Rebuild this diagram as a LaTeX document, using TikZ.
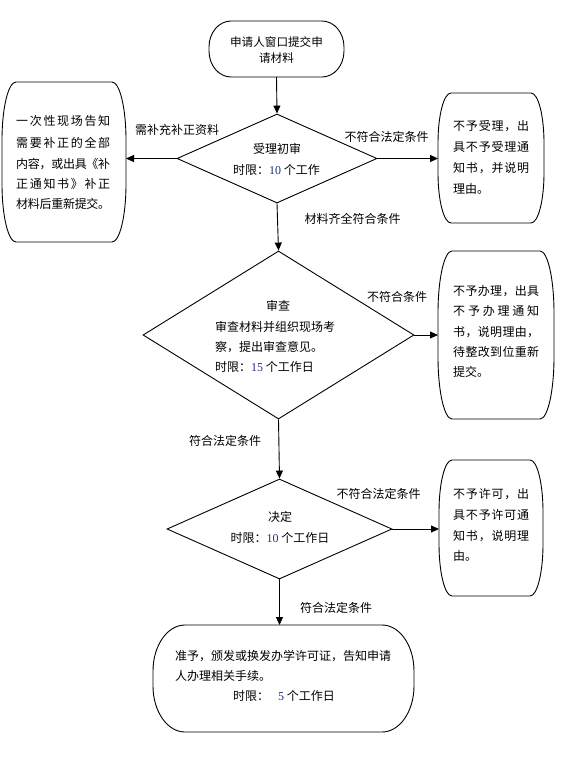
\documentclass[tikz,border=0pt]{standalone}
\usepackage{fontspec}
\setmainfont{Noto Sans CJK SC}
\newfontfamily\numfont{Liberation Serif}
\usetikzlibrary{arrows.meta,calc,shapes.geometric}
\definecolor{digitc}{RGB}{30,50,120}
\def\sprA#1{#1\sprB}
\def\sprB#1{\ifx#1\relax\else\hskip 0pt plus 1fil minus 1pt#1\expandafter\sprB\fi}
\newcommand\spr[2]{\makebox[#1][s]{\sprA#2\relax}}
\newcommand\dg[1]{{\numfont\color{digitc}#1}}
\newcommand\ellbox[3]{%
 \draw[boxline] ($(#1.north west)+(#2,0pt)$) -- ($(#1.north east)+(-#2,0pt)$)
  arc[start angle=90,end angle=0,x radius=#2,y radius=#3]
  -- ($(#1.south east)+(0pt,#3)$)
  arc[start angle=0,end angle=-90,x radius=#2,y radius=#3]
  -- ($(#1.south west)+(#2,0pt)$)
  arc[start angle=270,end angle=180,x radius=#2,y radius=#3]
  -- ($(#1.north west)+(0pt,-#3)$)
  arc[start angle=180,end angle=90,x radius=#2,y radius=#3] -- cycle;}
\tikzset{
 boxline/.style={draw=black,line width=0.9pt},
 conn/.style={draw=black,line width=0.9pt,-{Triangle[length=8pt,width=7pt]}},
 dia/.style={diamond,draw=black,line width=0.9pt,inner sep=0pt},
 holder/.style={rectangle,draw=none,inner sep=0pt,outer sep=0pt},
 txt/.style={inner sep=0pt,text height=9.5pt,text depth=2pt,font=\fontsize{12}{14}\selectfont},
 lt/.style={txt,anchor=west},
}
\begin{document}
\begin{tikzpicture}[x=1pt,y=-1pt]
\useasboundingbox (0,0) rectangle (572,760);
% shape holders
\node[holder,minimum width=135pt,minimum height=56pt] (T) at (276.5,49) {};
\node[holder,minimum width=124pt,minimum height=160pt] (L) at (64,162) {};
\node[holder,minimum width=106pt,minimum height=130pt] (R1) at (491,158) {};
\node[holder,minimum width=116pt,minimum height=168pt] (R2) at (496,335) {};
\node[holder,minimum width=104pt,minimum height=136pt] (R3) at (491,528) {};
\node[holder,minimum width=261pt,minimum height=107pt] (B) at (283.5,678.5) {};
\node[dia,minimum width=200pt,minimum height=89pt] (D1) at (277,158.5) {};
\node[dia,minimum width=271pt,minimum height=168pt] (D2) at (278.5,335) {};
\node[dia,minimum width=225pt,minimum height=100pt] (D3) at (279.5,529) {};
\ellbox{T}{22pt}{26pt}
\ellbox{L}{14pt}{58pt}
\ellbox{R1}{13pt}{50pt}
\ellbox{R2}{14pt}{62pt}
\ellbox{R3}{13pt}{52pt}
\ellbox{B}{32pt}{46pt}
% connectors
\draw[conn] (T.south) -- (D1.north);
\draw[conn] (D1.west) -- (D1.west -| L.east);
\draw[conn] (D1.east) -- (D1.east -| R1.west);
\draw[conn] (D1.south) -- (D2.north);
\draw[conn] (D2.east) -- (D2.east -| R2.west);
\draw[conn] (D2.south) -- (D3.north);
\draw[conn] (D3.east) -- (D3.east -| R3.west);
\draw[conn] (D3.south) -- (D3.south |- B.north);
% texts
\node[txt,font=\fontsize{11.6}{14}\selectfont] (t1) at (276.5,43) {申请人窗口提交申};
\node[txt,font=\fontsize{11.6}{14}\selectfont] (t2) at (276.5,59) {请材料};
\node[txt] (d1a) at (277,150) {受理初审};
\node[txt] (d1b) at (276.5,171) {时限：\dg{10} 个工作};
\node[lt] (l1) at (16,122) {\spr{94pt}{一次性现场告知}};
\node[lt] (l2) at (16,144) {\spr{94pt}{需要补正的全部}};
\node[lt] (l3) at (16,165) {\spr{94pt}{内容，或出具《补}};
\node[lt] (l4) at (16,185) {\spr{94pt}{正通知书》补正}};
\node[lt] (l5) at (16,205) {\spr{94pt}{材料后重新提交。}};
\node[lt] (r1a) at (453,127) {\spr{76pt}{不予受理，出}};
\node[lt] (r1b) at (453,148) {\spr{76pt}{具不予受理通}};
\node[lt] (r1c) at (453,169) {\spr{76pt}{知书，并说明}};
\node[lt] (r1d) at (453,190) {理由。};
\node[txt] (d2a) at (278,307) {审查};
\node[lt] (d2b) at (215,328) {审查材料并组织现场考};
\node[lt] (d2c) at (215,348) {察，提出审查意见。};
\node[lt] (d2d) at (215,368) {时限：\dg{15} 个工作日};
\node[lt] (r2a) at (453,292) {\spr{86pt}{不予办理，出具}};
\node[lt] (r2b) at (453,312) {\spr{86pt}{不予办理通知}};
\node[lt] (r2c) at (453,333) {\spr{86pt}{书，说明理由，}};
\node[lt] (r2d) at (453,353) {\spr{86pt}{待整改到位重新}};
\node[lt] (r2e) at (453,373) {提交。};
\node[txt] (d3a) at (280,518) {决定};
\node[txt] (d3b) at (280,539) {时限：\dg{10} 个工作日};
\node[lt] (r3a) at (453,495) {\spr{76pt}{不予许可，出}};
\node[lt] (r3b) at (453,516) {\spr{76pt}{具不予许可通}};
\node[lt] (r3c) at (453,537) {\spr{76pt}{知书，说明理}};
\node[lt] (r3d) at (453,557) {由。};
\node[lt] (b1) at (175,657) {准予，颁发或换发办学许可证，告知申请};
\node[lt] (b2) at (175,677) {人办理相关手续。};
\node[lt] (b3) at (233,697) {时限：\hspace{9pt}\dg{5} 个工作日};
% connector labels
\node[txt] (lab1) at (177,131) {需补充补正资料};
\node[txt] (lab2) at (386.5,138) {不符合法定条件};
\node[txt] (lab3) at (352.5,220) {材料齐全符合条件};
\node[txt] (lab4) at (397,298) {不符合条件};
\node[txt] (lab5) at (225,442) {符合法定条件};
\node[txt] (lab6) at (378.5,495) {不符合法定条件};
\node[txt] (lab7) at (336,609) {符合法定条件};
\end{tikzpicture}
\end{document}
